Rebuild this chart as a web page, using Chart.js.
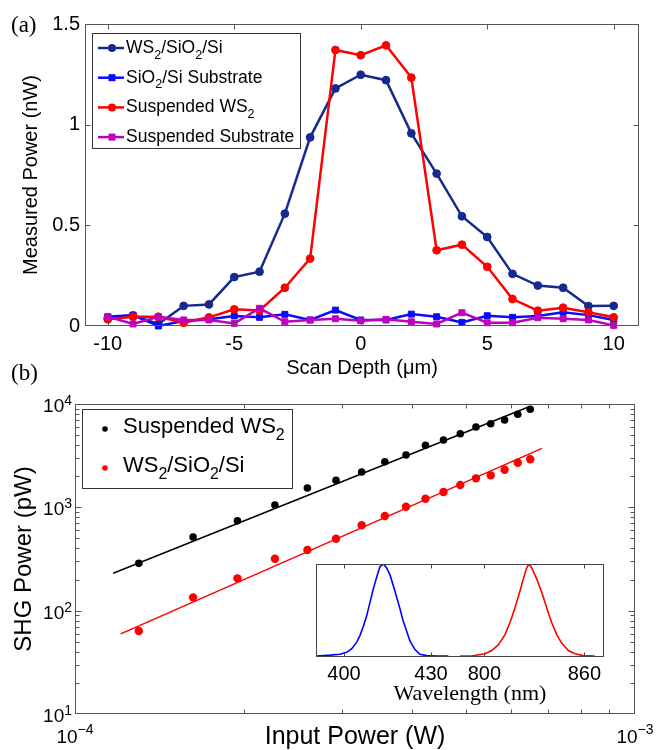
<!DOCTYPE html>
<html><head><meta charset="utf-8">
<script src="https://cdn.jsdelivr.net/npm/chart.js@4.4.1/dist/chart.umd.min.js"></script>
<style>
html,body{margin:0;padding:0;background:#fff;}
#wrap{position:relative;width:656px;height:750px;overflow:hidden;background:#fff;}
.abs{position:absolute;}
.plabel{font-family:"Times New Roman","Liberation Serif",serif;font-size:23px;color:#000;line-height:1;}
canvas{display:block;}
</style></head><body>
<div id="wrap">
  <div class="abs" style="left:0;top:0;width:656px;height:380px"><canvas id="ca" width="656" height="380"></canvas></div>
  <div class="abs" style="left:0;top:380px;width:656px;height:370px"><canvas id="cb" width="656" height="370"></canvas></div>
  <div class="abs" style="left:300px;top:555px;width:155px;height:130px"><canvas id="ci1" width="155" height="130"></canvas></div>
  <div class="abs" style="left:455px;top:555px;width:165px;height:130px"><canvas id="ci2" width="165" height="130"></canvas></div>
  <div class="abs plabel" style="left:11px;top:13px">(a)</div>
  <div class="abs plabel" style="left:11px;top:361px">(b)</div>
  <div class="abs" style="left:370px;top:680px;width:200px;text-align:center;font-family:'Times New Roman','Liberation Serif',serif;font-size:22px;line-height:26px;color:#000">Wavelength (nm)</div>
</div>
<script>
// ---------------- Panel (a) data ----------------
const scanDepth = [-10,-9,-8,-7,-6,-5,-4,-3,-2,-1,0,1,2,3,4,5,6,7,8,9,10];
const ws2OnSiO2 = [0.04,0.052,0.01,0.10,0.107,0.243,0.27,0.558,0.937,1.18,1.248,1.221,0.957,0.757,0.545,0.442,0.259,0.201,0.19,0.099,0.10];
const sio2Substrate = [0.046,0.054,0.0,0.025,0.033,0.05,0.043,0.058,0.03,0.079,0.03,0.03,0.059,0.046,0.018,0.051,0.043,0.05,0.068,0.054,0.03];
const suspendedWS2 = [0.033,0.046,0.046,0.016,0.043,0.083,0.077,0.19,0.335,1.371,1.345,1.394,1.234,0.376,0.404,0.294,0.134,0.076,0.091,0.068,0.043];
const suspendedSubstrate = [0.046,0.01,0.046,0.03,0.03,0.013,0.088,0.021,0.03,0.036,0.026,0.033,0.021,0.01,0.066,0.016,0.016,0.041,0.036,0.03,0.003];
const depthTicks = [-10,-5,0,5,10];
const powerTicks = [0,0.5,1,1.5];

// ---------------- Panel (b) data ----------------
const inputPower = [1.3e-4,1.625e-4,1.95e-4,2.275e-4,2.6e-4,2.925e-4,3.25e-4,3.575e-4,3.9e-4,4.225e-4,4.55e-4,4.875e-4,5.2e-4,5.525e-4,5.85e-4,6.175e-4,6.5e-4];
const shgSuspended = [287,516,742,1052,1538,1826,2197,2763,3208,3983,4483,5159,5987,6446,7000,7947,8886];
const shgOnSubstrate = [63.5,134.5,205.5,318,386,497,671,824,1013,1211,1406,1643,1908,2040,2311,2703,2915];
const fitSuspendedX = [1.17e-4,6.47e-4];
const fitSuspendedY = [230,9420];
const fitSubstrateX = [1.207e-4,6.82e-4];
const fitSubstrateY = [59.6,3724];
const inputTicks = [1e-4,1e-3];
const shgTicks = [10,100,1000,10000];

// ---------------- Inset data ----------------
const shgWavelength = [390.6,395.2,398.6,400.9,402.7,404.4,405.5,406.7,407.8,409.0,410.1,411.3,412.4,413.6,414.7,415.9,417.0,418.2,419.3,420.4,421.6,422.8,424.5,426.2,428.5,432.0,436.0];
const shgSpectrum = [0.01,0.02,0.03,0.05,0.09,0.16,0.23,0.33,0.44,0.59,0.73,0.86,0.97,1.0,0.96,0.88,0.77,0.64,0.52,0.39,0.28,0.17,0.08,0.03,0.015,0.01,0.01];
const laserWavelength = [785.4,792.4,800.4,804.4,808.4,812.4,815.4,818.4,821.4,823.4,825.4,826.8,828.4,831.4,834.4,837.4,840.4,843.4,846.4,850.4,854.4,859.4,866.3];
const laserSpectrum = [0.01,0.01,0.035,0.07,0.13,0.24,0.37,0.53,0.71,0.84,0.96,1.0,0.96,0.84,0.70,0.53,0.37,0.24,0.15,0.07,0.035,0.015,0.01];
const shgWlTicks = [400,430];
const laserWlTicks = [800,860];

// ---------------- helpers ----------------
const FONT = 'Arial, "Liberation Sans", Helvetica, sans-serif';
Chart.defaults.font.family = FONT;
Chart.defaults.color = '#000';
const pts = (xs, ys) => xs.map((x, i) => ({x: x, y: ys[i]}));
const expOf = v => String(Math.round(Math.log10(v)));

function drawRich(ctx, text, x, y, size, color) {
  const parts = text.split(/(\u2082)/);
  ctx.fillStyle = color; ctx.textBaseline = 'alphabetic'; ctx.textAlign = 'left';
  for (const p of parts) {
    if (!p) continue;
    if (p === '\u2082') {
      ctx.font = (size * 0.72) + 'px ' + FONT;
      ctx.fillText('2', x, y + size * 0.33);
      x += ctx.measureText('2').width;
    } else {
      ctx.font = size + 'px ' + FONT;
      ctx.fillText(p, x, y);
      x += ctx.measureText(p).width;
    }
  }
}

// draws "10" with a raised exponent; anchor: 'right' (x = right edge) or 'center'
function drawPow(ctx, v, x, base, anchor, raise) {
  const e = expOf(v).replace('-', '\u2212');
  ctx.textBaseline = 'alphabetic'; ctx.textAlign = 'left'; ctx.fillStyle = '#000';
  ctx.font = '19px ' + FONT; const w1 = ctx.measureText('10').width;
  ctx.font = '14px ' + FONT; const w2 = ctx.measureText(e).width;
  const x0 = anchor === 'right' ? x - w1 - w2 : x - (w1 + w2) / 2;
  ctx.font = '19px ' + FONT; ctx.fillText('10', x0, base);
  ctx.font = '14px ' + FONT; ctx.fillText(e, x0 + w1, base - raise);
}
const powLabels = {
  id: 'powLabels',
  afterDraw(chart) {
    const {ctx, chartArea: a, scales} = chart;
    ctx.save();
    scales.y.ticks.forEach(t => {
      const py = scales.y.getPixelForValue(t.value);
      drawPow(ctx, t.value, a.left - 3, py + 8, 'right', 7);
    });
    scales.x.ticks.forEach(t => {
      const px = scales.x.getPixelForValue(t.value);
      drawPow(ctx, t.value, px, a.bottom + 29, 'center', 9);
    });
    ctx.restore();
  }
};

function framePlugin(cfg) {
  return {
    id: 'frame',
    afterDraw(chart) {
      const {ctx, chartArea: a, scales} = chart;
      const xs = scales.x, ys = scales.y;
      const L = Math.round(a.left) + 0.5, R = Math.round(a.right) - 0.5;
      const T = Math.round(a.top) + 0.5, B = Math.round(a.bottom) - 0.5;
      ctx.save();
      ctx.strokeStyle = cfg.color; ctx.lineWidth = 1;
      ctx.beginPath();
      if (cfg.sides.includes('l')) { ctx.moveTo(L, T); ctx.lineTo(L, B); }
      if (cfg.sides.includes('r')) { ctx.moveTo(R, T); ctx.lineTo(R, B); }
      if (cfg.sides.includes('t')) { ctx.moveTo(a.left, T); ctx.lineTo(a.right, T); }
      if (cfg.sides.includes('b')) { ctx.moveTo(a.left, B); ctx.lineTo(a.right, B); }
      for (const t of (cfg.xTicks || [])) {
        const px = Math.round(xs.getPixelForValue(t.v)) + 0.5;
        if (px < a.left + 1 || px > a.right - 1) continue;
        ctx.moveTo(px, T); ctx.lineTo(px, T + t.len);
        ctx.moveTo(px, B); ctx.lineTo(px, B - t.len);
      }
      for (const t of (cfg.yTicks || [])) {
        const py = Math.round(ys.getPixelForValue(t.v)) + 0.5;
        if (py < a.top + 1 || py > a.bottom - 1) continue;
        ctx.moveTo(L, py); ctx.lineTo(L + t.len, py);
        ctx.moveTo(R, py); ctx.lineTo(R - t.len, py);
      }
      ctx.stroke();
      ctx.restore();
    }
  };
}

// ---------------- Panel (a) ----------------
const NAVY = '#15298f', BLUE = '#0a0aff', RED = '#ff0000', MAG = '#c000c0';
const legendA = {
  id: 'legendA',
  afterDraw(chart) {
    const ctx = chart.ctx;
    ctx.save();
    ctx.fillStyle = '#fff'; ctx.fillRect(92, 33, 208, 115);
    ctx.strokeStyle = '#333'; ctx.lineWidth = 1; ctx.strokeRect(92.5, 33.5, 208, 115);
    chart.data.datasets.forEach((ds, i) => {
      const base = 53 + i * 29.7;
      const y = base - 5;
      ctx.strokeStyle = ds.borderColor; ctx.lineWidth = 2.5;
      ctx.beginPath(); ctx.moveTo(98, y); ctx.lineTo(124, y); ctx.stroke();
      ctx.fillStyle = ds.backgroundColor;
      if (ds.pointStyle === 'rect') ctx.fillRect(112 - 3.5, y - 3.5, 7, 7);
      else { ctx.beginPath(); ctx.arc(112, y, 4, 0, Math.PI * 2); ctx.fill(); }
      drawRich(ctx, ds.label, 126, base, 17.5, '#000');
    });
    ctx.restore();
  }
};
function seriesA(label, ys, color, style, order) {
  return {label, data: pts(scanDepth, ys), borderColor: color, backgroundColor: color,
    pointBorderColor: color, pointBackgroundColor: color, borderWidth: 2.5,
    pointStyle: style, pointRadius: style === 'rect' ? 4.2 : 3.9, pointBorderWidth: 1,
    showLine: true, tension: 0, clip: false, order};
}
new Chart(document.getElementById('ca'), {
  type: 'scatter',
  data: {datasets: [
    seriesA('WS\u2082/SiO\u2082/Si', ws2OnSiO2, NAVY, 'circle', 4),
    seriesA('SiO\u2082/Si Substrate', sio2Substrate, BLUE, 'rect', 3),
    seriesA('Suspended WS\u2082', suspendedWS2, RED, 'circle', 2),
    seriesA('Suspended Substrate', suspendedSubstrate, MAG, 'rect', 1)
  ]},
  options: {
    responsive: false, animation: false,
    layout: {padding: {left: 0, top: 24, right: 17, bottom: 0}},
    plugins: {legend: {display: false}, tooltip: {enabled: false}},
    scales: {
      x: {type: 'linear', min: -10.9, max: 11,
        grid: {display: false, drawTicks: false}, border: {display: false},
        afterBuildTicks: s => { s.ticks = depthTicks.map(v => ({value: v})); },
        afterFit: s => { s.height = 54; },
        ticks: {font: {size: 20}, padding: 6, maxRotation: 0, autoSkip: false, callback: v => String(v)},
        title: {display: true, text: 'Scan Depth (\u03BCm)', font: {size: 20}, padding: {top: 0, bottom: 0}}
      },
      y: {type: 'linear', min: 0, max: 1.5,
        grid: {display: false, drawTicks: false}, border: {display: false},
        afterBuildTicks: s => { s.ticks = powerTicks.map(v => ({value: v})); },
        afterFit: s => { s.width = 85; },
        ticks: {font: {size: 20}, padding: 5, autoSkip: false, callback: v => String(v)},
        title: {display: true, text: 'Measured Power (nW)', font: {size: 20}, padding: {top: 19, bottom: 0}}
      }
    }
  },
  plugins: [framePlugin({color: '#555', sides: 'lrtb',
    xTicks: depthTicks.map(v => ({v, len: 5})), yTicks: powerTicks.map(v => ({v, len: 5}))}), legendA]
});

// ---------------- Panel (b) ----------------
const legendB = {
  id: 'legendB',
  afterDraw(chart) {
    const ctx = chart.ctx;
    ctx.save();
    ctx.fillStyle = '#fff'; ctx.fillRect(82, 29, 210, 79);
    ctx.strokeStyle = '#333'; ctx.lineWidth = 1; ctx.strokeRect(82.5, 29.5, 210, 79);
    const items = chart.data.datasets.filter(d => !d.isFit);
    items.forEach((ds, i) => {
      const base = 53 + i * 39;
      ctx.fillStyle = ds.backgroundColor;
      ctx.beginPath(); ctx.arc(105, base - 4, 2.8, 0, Math.PI * 2); ctx.fill();
      drawRich(ctx, ds.label, 123, base, 22, '#000');
    });
    ctx.restore();
  }
};
const minorLog = [];
[1e-4].forEach(d => { for (let k = 2; k <= 9; k++) minorLog.push(d * k); });
const minorY = [];
[10, 100, 1000].forEach(d => { for (let k = 2; k <= 9; k++) minorY.push(d * k); });
new Chart(document.getElementById('cb'), {
  type: 'scatter',
  data: {datasets: [
    {label: 'Suspended WS\u2082', data: pts(inputPower, shgSuspended), backgroundColor: '#000', borderColor: '#000',
      pointRadius: 3.8, pointBorderWidth: 0, showLine: false, clip: false},
    {label: 'WS\u2082/SiO\u2082/Si', data: pts(inputPower, shgOnSubstrate), backgroundColor: '#ff0000', borderColor: '#ff0000',
      pointRadius: 4.2, pointBorderWidth: 0, showLine: false, clip: false},
    {label: 'fit suspended', isFit: true, data: pts(fitSuspendedX, fitSuspendedY), borderColor: '#000', borderWidth: 1.5,
      pointRadius: 0, showLine: true},
    {label: 'fit substrate', isFit: true, data: pts(fitSubstrateX, fitSubstrateY), borderColor: '#ff0000', borderWidth: 1.5,
      pointRadius: 0, showLine: true}
  ]},
  options: {
    responsive: false, animation: false,
    layout: {padding: {left: 0, top: 24, right: 21, bottom: 0}},
    plugins: {legend: {display: false}, tooltip: {enabled: false}},
    scales: {
      x: {type: 'logarithmic', min: 1e-4, max: 1e-3,
        grid: {display: false, drawTicks: false}, border: {display: false},
        afterBuildTicks: s => { s.ticks = inputTicks.map(v => ({value: v})); },
        afterFit: s => { s.height = 36; },
        ticks: {display: false, callback: v => '10^' + expOf(v)},
        title: {display: true, text: 'Input Power (W)', font: {size: 25, lineHeight: 1}, padding: {top: 0, bottom: 0}}
      },
      y: {type: 'logarithmic', min: 10, max: 10000,
        grid: {display: false, drawTicks: false}, border: {display: false},
        afterBuildTicks: s => { s.ticks = shgTicks.map(v => ({value: v})); },
        afterFit: s => { s.width = 75; },
        ticks: {display: false, callback: v => '10^' + expOf(v)},
        title: {display: true, text: 'SHG Power (pW)', font: {size: 24}, padding: {top: 10, bottom: 0}}
      }
    }
  },
  plugins: [framePlugin({color: '#555', sides: 'lrtb',
    xTicks: inputTicks.map(v => ({v, len: 6})).concat(minorLog.map(v => ({v, len: 4}))),
    yTicks: shgTicks.map(v => ({v, len: 6})).concat(minorY.map(v => ({v, len: 4})))}), legendB, powLabels]
});

// ---------------- Inset ----------------
function insetChart(id, xs, ys, color, xmin, xmax, ticks, pad, sides) {
  return new Chart(document.getElementById(id), {
    type: 'scatter',
    data: {datasets: [{data: pts(xs, ys), borderColor: color, borderWidth: 1.6, pointRadius: 0, showLine: true, tension: 0}]},
    options: {
      responsive: false, animation: false,
      layout: {padding: pad},
      plugins: {legend: {display: false}, tooltip: {enabled: false}},
      scales: {
        x: {type: 'linear', min: xmin, max: xmax,
          grid: {display: false, drawTicks: false}, border: {display: false},
          afterBuildTicks: s => { s.ticks = ticks.map(v => ({value: v})); },
          afterFit: s => { s.height = 28; },
          ticks: {font: {size: 20}, padding: 5, maxRotation: 0, autoSkip: false, callback: v => String(v)}
        },
        y: {type: 'linear', min: 0, max: 1.0, display: false}
      }
    },
    plugins: [framePlugin({color: '#444', sides: sides, xTicks: ticks.map(v => ({v, len: 4}))})]
  });
}
insetChart('ci1', shgWavelength, shgSpectrum, '#0000ff', 390.35, 438.3, shgWlTicks, {left: 16, top: 9, right: 0, bottom: 0}, 'ltb');
insetChart('ci2', laserWavelength, laserSpectrum, '#ff0000', 782.4, 871.8, laserWlTicks, {left: 0, top: 9, right: 16, bottom: 0}, 'rtb');
</script>
</body></html>
